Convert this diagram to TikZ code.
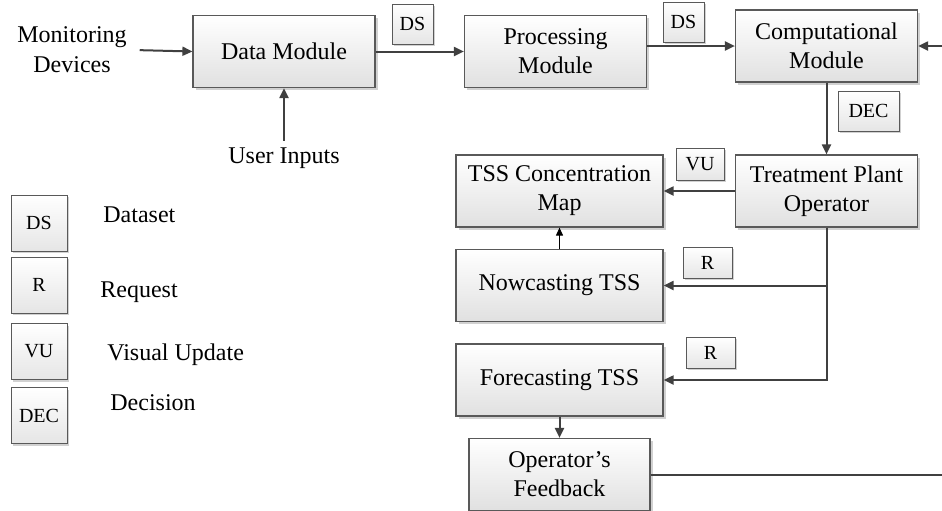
\documentclass[tikz,border=0pt]{standalone}
\usepackage{fontspec}
\setmainfont{Liberation Serif}
\usetikzlibrary{arrows.meta, shadows}
\tikzset{
  % blocks of the flow
  tss-block/.style={rectangle, draw=black!65, line width=0.6pt, top color=white, bottom color=black!12,
    minimum width=91pt, minimum height=36pt, align=center, font=\fontsize{12}{14.5}\selectfont,
    drop shadow={shadow xshift=1.3pt, shadow yshift=-1.3pt, fill=black!30, opacity=0.6}},
  tss-wide/.style={tss-block, minimum width=103.5pt},
  % small message tags
  tss-tag/.style={rectangle, draw=black!65, line width=0.5pt, top color=white, bottom color=black!10,
    inner sep=0pt, font=\fontsize{10}{12}\selectfont,
    drop shadow={shadow xshift=1pt, shadow yshift=-1pt, fill=black!30, opacity=0.6}},
  tss-key/.style={tss-tag, minimum width=28pt, minimum height=28pt},
  tss-label/.style={align=center, font=\fontsize{12}{15}\selectfont},
  tss-arrow/.style={-{Triangle[length=5pt,width=4.5pt]}, draw=black!75, line width=1pt},
  tss-thin/.style={-{Triangle[length=4pt,width=3.5pt]}, draw=black, line width=0.5pt}
}
\begin{document}
\begin{tikzpicture}[x=0.5pt, y=-0.5pt]
    \clip (0,0) rectangle (942,510);
    % --- main flow ---
    \node[tss-label] (mon) at (72,50) {Monitoring\\Devices};
    \node[tss-label] (user) at (284,158) {User Inputs};
    \node[tss-block] (data) at (284,51.5) {Data Module};
    \node[tss-block] (proc) at (555.5,51.5) {Processing\\Module};
    \node[tss-block] (comp) at (826.5,46) {Computational\\Module};
    \node[tss-block] (tpo) at (826.5,191) {Treatment Plant\\Operator};
    \node[tss-wide] (map) at (559.5,191) {TSS Concentration\\Map};
    \node[tss-wide] (now) at (559.5,285.5) {Nowcasting TSS};
    \node[tss-wide] (fore) at (559.5,380) {Forecasting TSS};
    \node[tss-block, minimum width=90.5pt] (fb) at (559.5,474.5) {Operator's\\Feedback};
    % --- tags on the connectors ---
    \node[tss-tag, minimum width=20.5pt, minimum height=20pt] (ds1) at (412.5,24) {DS};
    \node[tss-tag, minimum width=20.5pt, minimum height=20pt] (ds2) at (683.5,22) {DS};
    \node[tss-tag, minimum width=30.5pt, minimum height=20pt] (dec) at (868.5,111) {DEC};
    \node[tss-tag, minimum width=24pt, minimum height=16pt] (vu) at (700,164) {VU};
    \node[tss-tag, minimum width=24.5pt, minimum height=15.5pt] (r1) at (707.5,262.5) {R};
    \node[tss-tag, minimum width=24.5pt, minimum height=15.5pt] (r2) at (710.5,352.5) {R};
    % --- legend ---
    \node[tss-key] (kds) at (39,223) {DS};
    \node[tss-key] (kr) at (39,285) {R};
    \node[tss-key] (kvu) at (39,351.5) {VU};
    \node[tss-key] (kdec) at (39,415.5) {DEC};
    \node[tss-label, anchor=west, inner sep=0pt] (tds) at (103,215) {Dataset};
    \node[tss-label, anchor=west, inner sep=0pt] (tr) at (100,292) {Request};
    \node[tss-label, anchor=west, inner sep=0pt] (tvu) at (107,355) {Visual Update};
    \node[tss-label, anchor=west, inner sep=0pt] (tdec) at (110,403) {Decision};
    % --- connectors ---
    \coordinate (edge) at (960,474.5);
    \draw[tss-arrow, shorten <=3pt] (mon.east) -- (data.west);
    \draw[tss-arrow] (user) -- (data);
    \draw[tss-arrow] (data) -- (proc);
    \draw[tss-arrow] (proc.east |- comp.west) -- (comp.west);
    \draw[tss-arrow] (comp) -- (tpo);
    \draw[tss-arrow] (tpo) -- (map);
    \draw[tss-arrow] (tpo.south) |- (now.east);
    \draw[tss-arrow] (tpo.south) |- (fore.east);
    \draw[tss-thin] (now) -- (map);
    \draw[tss-arrow] (fore) -- (fb);
    \draw[tss-arrow] (fb.east) -- (edge) |- (comp.east);
\end{tikzpicture}
\end{document}
